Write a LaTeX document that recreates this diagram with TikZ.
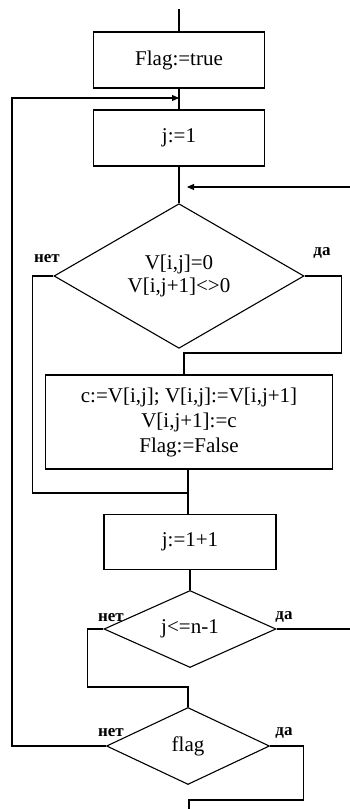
\documentclass[tikz,border=0pt]{standalone}
\usepackage{fontspec}
\setmainfont{Liberation Serif}
\usetikzlibrary{arrows.meta,positioning,shapes.geometric,calc}

\begin{document}
\begin{tikzpicture}[x=1pt, y=-1pt, line width=1.1pt,
  pbox/.style={rectangle, draw, inner sep=0pt, align=center,
               font=\fontsize{21}{25}\selectfont},
  cbox/.style={diamond, draw, inner sep=0pt, align=center,
               font=\fontsize{21}{23}\selectfont},
  lbl/.style={font=\fontsize{17}{17}\selectfont\bfseries, inner sep=0pt},
  arr/.style={-{Triangle[length=7pt,width=6pt]}}
]
\useasboundingbox (0,0) rectangle (350,809);

% Blocks
\node[pbox, minimum width=171pt, minimum height=56pt] (flag) at (179,60)  {Flag:=true};
\node[pbox, minimum width=171pt, minimum height=56pt] (jone) at (179,138) {j:=1};
\node[cbox, minimum width=250pt, minimum height=134pt] (cmp) at (179,276)
  {V[i,j]=0\\V[i,j+1]<>0};
\node[pbox, minimum width=287pt, minimum height=94pt] (swap) at (189,422)
  {c:=V[i,j]; V[i,j]:=V[i,j+1]\\V[i,j+1]:=c\\Flag:=False};
\node[pbox, minimum width=172pt, minimum height=55pt] (jinc) at (190,542) {j:=1+1};
\node[cbox, minimum width=172pt, minimum height=77pt] (cnt) at (190,629) {j<=n-1};
\node[cbox, minimum width=163pt, minimum height=77pt] (chk) at (188,746) {flag};

% Labels
\node[lbl] (no1)  at (47,259)  {нет};
\node[lbl] (yes1) at (322,253) {да};
\node[lbl] (no2)  at (111,618) {нет};
\node[lbl] (yes2) at (284,617) {да};
\node[lbl] (no3)  at (111,733) {нет};
\node[lbl] (yes3) at (284,733) {да};

% Free ends
\coordinate (start) at (179,9);
\coordinate (loopin) at (179,98);
\coordinate (rin) at (350,187);
\coordinate (m1) at (187,187);
\coordinate (m2) at (188,493);
\coordinate (jb) at (184,353);
\coordinate (rout) at (350,629);
\coordinate (m3) at (188,687);
\coordinate (m4) at (189,800);
\coordinate (stop) at (189,809);

% Main flow
\draw (start) -- (flag.north);
\draw (flag.south) -- (jone.north);
\draw (jone.south) -- (cmp.north);
\draw[arr] (rin) -- (m1);
\draw (cmp.east) -- ++(37,0) |- (jb) -- (jb |- swap.north);
\draw (cmp.west) -- ++(-21,0) |- (m2);
\draw (swap.south -| m2) -- (jinc.north -| m2);
\draw (jinc.south) -- (cnt.north);
\draw (cnt.east) -- (rout);
\draw (cnt.west) -- ++(-16,0) |- (m3) -- (chk.north);
\draw[arr] (chk.west) -- ++(-94,0) |- (loopin);
\draw (chk.east) -- ++(33,0) |- (m4) -- (stop);
\end{tikzpicture}
\end{document}
